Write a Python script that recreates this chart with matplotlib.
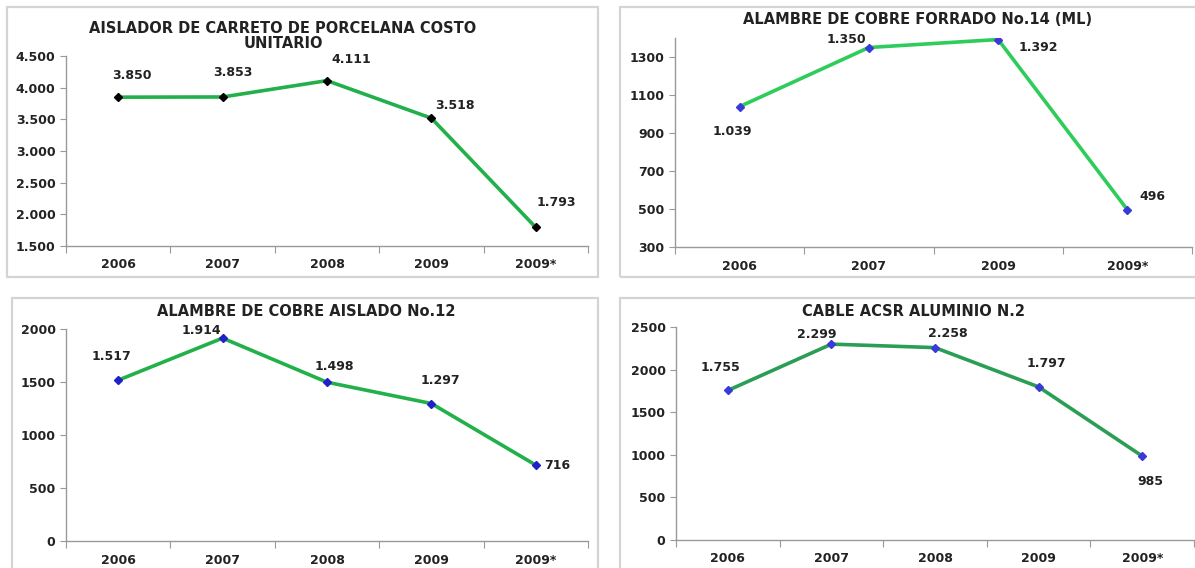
import matplotlib
matplotlib.use("Agg")
import matplotlib.pyplot as plt
from matplotlib.patches import Rectangle
from matplotlib.ticker import FixedLocator, NullFormatter, FuncFormatter

# data
years_a = ["2006", "2007", "2008", "2009", "2009*"]
years_b = ["2006", "2007", "2009", "2009*"]
aislador = [3850, 3853, 4111, 3518, 1793]
forrado14 = [1039, 1350, 1392, 496]
aislado12 = [1517, 1914, 1498, 1297, 716]
acsr = [1755, 2299, 2258, 1797, 985]

W, H = 1195, 568
fig = plt.figure(figsize=(W / 100, H / 100), dpi=100)
plt.rcParams["font.family"] = "DejaVu Sans"
TXT = "#222222"


def fmt(v):
    return f"{int(v):,}".replace(",", ".")


def px_axes(l, r, top, bot):
    return fig.add_axes([l / W, (H - bot) / H, (r - l) / W, (bot - top) / H])


def frame(x0, y0, x1, y1):
    fig.patches.append(Rectangle((x0 / W, (H - y1) / H), (x1 - x0) / W, (y1 - y0) / H,
                                 transform=fig.transFigure, fill=False,
                                 ec="#d4d4d4", lw=1.6))


def panel(ax, cats, vals, ylim, yticks, title, title_xy, offsets, mcolor, lcolor,
          ytickfmt=fmt):
    x = list(range(len(cats)))
    ax.plot(x, vals, color=lcolor, lw=2.6, marker="D", ms=4.5,
            mfc=mcolor, mec=mcolor, zorder=3)
    ax.set_xlim(-0.5, len(cats) - 0.5)
    ax.set_ylim(*ylim)
    ax.set_yticks(yticks)
    ax.yaxis.set_major_formatter(FuncFormatter(lambda v, _: ytickfmt(v)))
    ax.xaxis.set_major_locator(FixedLocator([i - 0.5 for i in range(len(cats) + 1)]))
    ax.xaxis.set_major_formatter(NullFormatter())
    ax.xaxis.set_minor_locator(FixedLocator(x))
    ax.set_xticklabels(cats, minor=True)
    ax.tick_params(axis="x", which="major", length=5, color="#999999", direction="out")
    ax.tick_params(axis="x", which="minor", length=0, pad=9, labelsize=9,
                   labelcolor=TXT)
    ax.tick_params(axis="y", length=4, color="#999999", labelsize=9, labelcolor=TXT)
    for lab in ax.get_xticklabels(minor=True) + ax.get_yticklabels():
        lab.set_fontweight("bold")
    for s in ("top", "right"):
        ax.spines[s].set_visible(False)
    for s in ("left", "bottom"):
        ax.spines[s].set_color("#999999")
        ax.spines[s].set_linewidth(1.0)
    ax.patch.set_alpha(0)
    for xi, v, (dx, dy) in zip(x, vals, offsets):
        ax.annotate(fmt(v), (xi, v), xytext=(dx, dy), textcoords="offset pixels",
                    ha="center", va="center", fontsize=9, fontweight="bold",
                    color=TXT, clip_on=False)
    fig.text(title_xy[0] / W, 1 - title_xy[1] / H, title, ha="center", va="center",
             fontsize=10.5, fontweight="bold", color=TXT, linespacing=1.0)


# borders of the four pasted charts
frame(7, 7, 598, 277)
frame(620, 7, 1200, 277)
frame(12, 298, 598, 575)
frame(620, 298, 1200, 575)

ax1 = px_axes(66, 588, 56, 246)
panel(ax1, years_a, aislador, (1500, 4500), range(1500, 4501, 500),
      "AISLADOR DE CARRETO DE PORCELANA COSTO\nUNITARIO", (283, 36),
      [(14, 22), (10, 24), (24, 21), (24, 13), (21, 25)], "black", "#22b04a")

ax2 = px_axes(675, 1192, 38, 247)
panel(ax2, years_b, forrado14, (300, 1400), range(300, 1400, 200),
      "ALAMBRE DE COBRE FORRADO No.14 (ML)", (918, 20),
      [(-7, -25), (-23, 8), (40, -8), (25, 13)], "#3a3ad8", "#2ecc5a",
      ytickfmt=lambda v: f"{int(v)}")

ax3 = px_axes(66, 588, 329, 541)
panel(ax3, years_a, aislado12, (0, 2000), range(0, 2001, 500),
      "ALAMBRE DE COBRE AISLADO No.12", (306, 311),
      [(-7, 24), (-21, 8), (7, 16), (9, 23), (21, 0)], "#2020c8", "#22b04a",
      ytickfmt=lambda v: f"{int(v)}")

ax4 = px_axes(676, 1194, 327, 540)
panel(ax4, years_a, acsr, (0, 2500), range(0, 2501, 500),
      "CABLE ACSR ALUMINIO N.2", (914, 311),
      [(-7, 23), (-15, 10), (13, 14), (8, 23), (8, -25)], "#3a3ad8", "#2a9e55",
      ytickfmt=lambda v: f"{int(v)}")

fig.savefig("out.png", dpi=100)
